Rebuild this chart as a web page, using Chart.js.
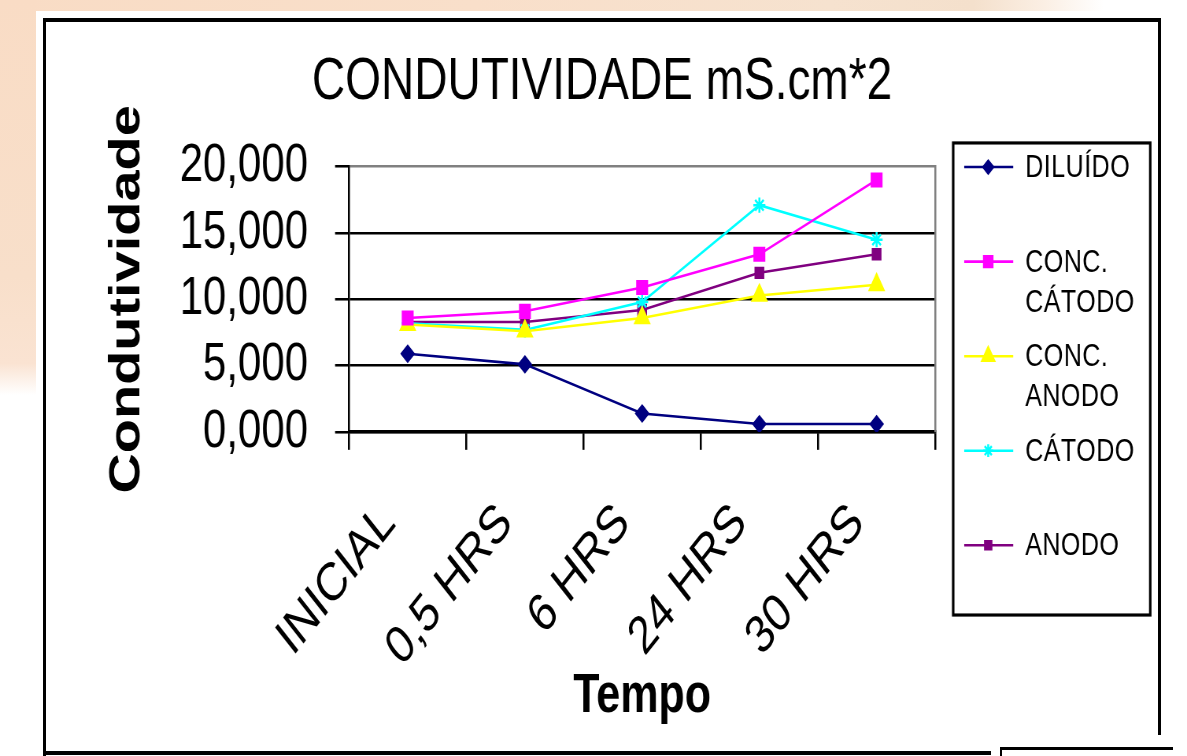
<!DOCTYPE html>
<html>
<head>
<meta charset="utf-8">
<title>Condutividade</title>
<script src="https://cdn.jsdelivr.net/npm/chart.js@4.4.0/dist/chart.umd.min.js"></script>
<style>
  html, body { margin: 0; padding: 0; width: 1187px; height: 756px; overflow: hidden; background: #fff; }
  .bg-top { position: absolute; left: 0; top: 0; width: 1187px; height: 11px;
            background: linear-gradient(to right, #f9dcc5 0%, #f9dfca 40%, #f6e2cf 70%, #f4e0cc 82%, #fbefe4 88%, #fff 93%); }
  .bg-left { position: absolute; left: 0; top: 0; width: 36px; height: 395px;
             background: linear-gradient(to bottom, #f9dcc5 0%, #f8dfca 70%, #fae3d2 92%, #fff 100%); }
  .line { position: absolute; background: #000; }
  canvas { position: absolute; left: 0; top: 0; }
</style>
</head>
<body>
<div class="bg-top"></div>
<div class="bg-left"></div>
<div class="line" style="left:43px; top:18px; width:1118px; height:4px;"></div>
<div class="line" style="left:43px; top:18px; width:3px; height:738px;"></div>
<div class="line" style="left:1158px; top:18px; width:3px; height:717px;"></div>
<div class="line" style="left:43px; top:751px; width:948px; height:4px;"></div>
<div class="line" style="left:1000px; top:747px; width:173px; height:3px;"></div>
<div class="line" style="left:1000px; top:747px; width:2px; height:9px;"></div>
<!-- the old chart is stretched vertically; chart space is 1187x595 shown at 1187x756 -->
<canvas id="chart" width="1187" height="595" style="width:1187px; height:756px;"></canvas>
<script>
// Data
const categories = ['INICIAL', '0,5 HRS', '6 HRS', '24 HRS', '30 HRS'];
const seriesNames = ['DILUÍDO', 'CONC. CÁTODO', 'CONC. ANODO', 'CÁTODO', 'ANODO'];
const diluido = [5.9, 5.1, 1.4, 0.6, 0.6];
const concCatodo = [8.6, 9.1, 10.9, 13.4, 19.0];
const concAnodo = [8.1, 7.6, 8.6, 10.3, 11.1];
const catodo = [8.2, 7.7, 9.8, 17.1, 14.5];
const anodo = [8.3, 8.3, 9.2, 12.0, 13.4];
const yMin = 0, yMax = 20, yStep = 5;

const font = "'Liberation Sans', Arial, sans-serif";
const stretch = 1.2707;

Chart.defaults.color = '#000';
Chart.defaults.font.family = font;

function series(i, values, color, style, radius) {
    return {
        label: seriesNames[i],
        data: values,
        borderColor: color,
        backgroundColor: color,
        borderWidth: 2,
        pointStyle: style,
        pointRadius: radius,
        pointBorderWidth: 2,
        tension: 0
    };
}

// boxed legend like the spreadsheet one
const boxLegend = {
    id: 'boxLegend',
    afterDraw(chart) {
        const ctx = chart.ctx;
        const bx = 953, by = 112.5, bw = 197, bh = 371.5;
        ctx.save();
        ctx.strokeStyle = '#000';
        ctx.lineWidth = 2.5;
        ctx.strokeRect(bx, by, bw, bh);
        ctx.font = '25px ' + font;
        ctx.letterSpacing = '0.5px';
        ctx.textBaseline = 'middle';
        ctx.textAlign = 'left';
        chart.data.datasets.forEach((ds, i) => {
            const y = by + 19 + i * 74.4;
            ctx.strokeStyle = ds.borderColor;
            ctx.fillStyle = ds.backgroundColor;
            ctx.lineWidth = 2;
            ctx.beginPath();
            ctx.moveTo(964, y);
            ctx.lineTo(1013, y);
            ctx.stroke();
            Chart.helpers.drawPoint(ctx, {
                pointStyle: ds.pointStyle, radius: ds.pointRadius - 1,
                borderWidth: 2, rotation: 0
            }, 988, y);
            const lines = ds.label.startsWith('CONC. ') ? ['CONC.', ds.label.slice(6)] : [ds.label];
            ctx.fillStyle = '#000';
            lines.forEach((t, j) => ctx.fillText(t, 1025, y + 1 + j * 31.5));
        });
        ctx.restore();
    }
};

new Chart(document.getElementById('chart'), {
    type: 'line',
    data: {
        labels: categories,
        datasets: [
            series(0, diluido, '#000080', 'rectRot', 6),
            series(1, concCatodo, '#ff00ff', 'rect', 7),
            series(2, concAnodo, '#ffff00', 'triangle', 8),
            series(3, catodo, '#00ffff', 'star', 6),
            series(4, anodo, '#800080', 'rect', 5.5)
        ]
    },
    options: {
        responsive: false,
        animation: false,
        devicePixelRatio: stretch,
        layout: { padding: { left: 43, right: 26, top: 0, bottom: 0 } },
        plugins: {
            legend: { display: false },
            tooltip: { enabled: false },
            title: {
                display: true,
                text: 'CONDUTIVIDADE mS.cm*2',
                color: '#000',
                font: { family: font, size: 46, weight: 'normal' },
                padding: { top: 38, bottom: 38 }
            }
        },
        scales: {
            x: {
                offset: true,
                afterFit: s => { s.height = 595 - 340; },
                grid: { display: true, drawOnChartArea: false, offset: true,
                        tickLength: 14, color: '#000', lineWidth: 2 },
                border: { color: '#000', width: 2.5 },
                ticks: { autoSkip: false, minRotation: 45, maxRotation: 45,
                         padding: 33, labelOffset: -19,
                         font: { family: font, size: 42 }, color: '#000' },
                title: { display: true, text: 'Tempo', color: '#000',
                         font: { family: font, size: 43, weight: 'bold' },
                         padding: { top: 0, bottom: 21 } }
            },
            y: {
                min: yMin, max: yMax,
                afterFit: s => { s.width = 349 - 43; },
                grid: {
                    color: c => c.tick && c.tick.value === yMax ? '#808080' : '#000',
                    tickColor: '#000', lineWidth: 2, tickLength: 14
                },
                border: { color: '#000', width: 2 },
                ticks: {
                    autoSkip: false, stepSize: yStep, padding: 27, color: '#000',
                    font: { family: font, size: 42 },
                    callback: v => v.toFixed(3).replace('.', ',')
                },
                title: { display: true, text: 'Condutividade', color: '#000',
                         font: { family: font, size: 44, weight: 'bold' },
                         padding: { top: 58, bottom: 0 } }
            },
            yR: {
                position: 'right',
                min: yMin, max: yMax,
                afterFit: s => { s.width = 1187 - 26 - 935; },
                grid: { display: false },
                ticks: { display: false },
                border: { color: '#808080', width: 2 }
            }
        }
    },
    plugins: [boxLegend]
});
</script>
</body>
</html>
